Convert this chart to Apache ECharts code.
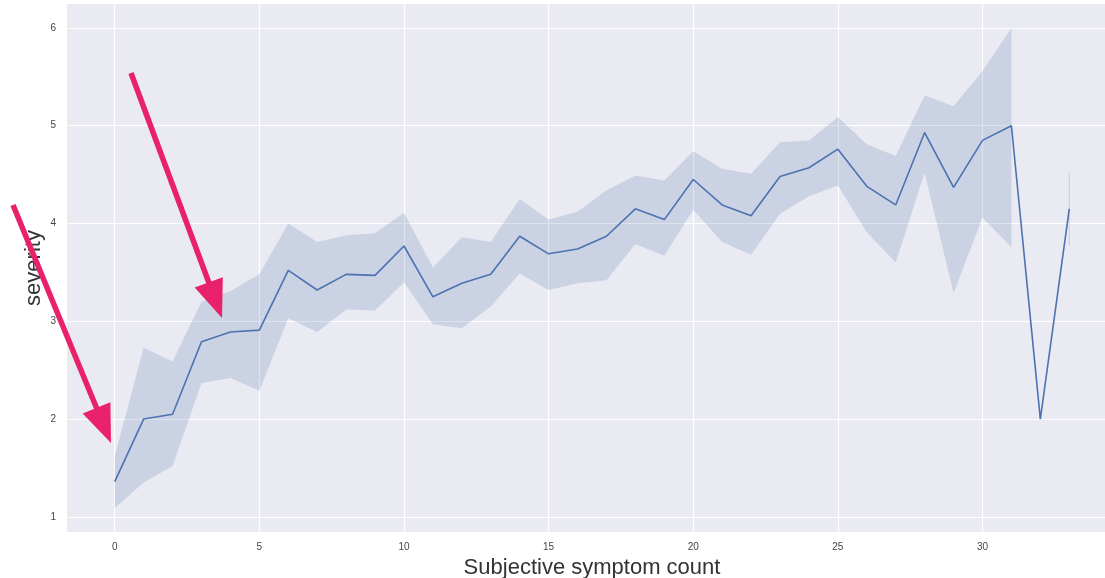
<!DOCTYPE html>
<html>
<head>
<meta charset="utf-8">
<title>Severity by subjective symptom count</title>
<script src="https://cdn.jsdelivr.net/npm/echarts@6/dist/echarts.min.js"></script>
<style>
  html, body { margin: 0; padding: 0; background: #ffffff; }
  #chart { width: 1105px; height: 578px; }
</style>
</head>
<body>
<div id="chart"></div>
<script>
// Number of subjective symptoms reported
const symptomCounts = [0, 1, 2, 3, 4, 5, 6, 7, 8, 9, 10, 11, 12, 13, 14, 15, 16,
  17, 18, 19, 20, 21, 22, 23, 24, 25, 26, 27, 28, 29, 30, 31, 32, 33];

// Mean severity per symptom count
const severityMean = [1.36, 2.00, 2.05, 2.79, 2.89, 2.91, 3.52, 3.32, 3.48, 3.47,
  3.77, 3.25, 3.39, 3.48, 3.87, 3.69, 3.74, 3.87, 4.15, 4.04, 4.45, 4.19, 4.08,
  4.48, 4.57, 4.76, 4.38, 4.19, 4.93, 4.37, 4.85, 5.00, 2.00, 4.15];

// 95% confidence interval bounds (null where a single observation gives none)
const ciLower = [1.09, 1.35, 1.52, 2.37, 2.42, 2.29, 3.03, 2.89, 3.12, 3.11,
  3.40, 2.97, 2.93, 3.15, 3.49, 3.32, 3.39, 3.42, 3.79, 3.67, 4.14, 3.81, 3.68,
  4.10, 4.28, 4.39, 3.91, 3.60, 4.52, 3.29, 4.06, 3.76, null, 3.77];
const ciUpper = [1.62, 2.73, 2.59, 3.20, 3.31, 3.48, 4.00, 3.81, 3.88, 3.90,
  4.11, 3.55, 3.86, 3.81, 4.25, 4.04, 4.12, 4.34, 4.49, 4.44, 4.74, 4.56, 4.51,
  4.83, 4.85, 5.09, 4.81, 4.69, 5.31, 5.20, 5.56, 6.00, null, 4.52];

// Tick labels
const xTicks = [0, 5, 10, 15, 20, 25, 30, 35];
const yTicks = [1, 2, 3, 4, 5, 6];

// Callout arrows (tail -> tip, in pixels)
const calloutArrows = [
  { from: [13, 205], to: [111, 443] },
  { from: [131, 73], to: [222, 318] }
];

const LINE_BLUE = '#4C72B0';
const BAND_FILL = 'rgba(76, 114, 176, 0.2)';
const ARROW_PINK = '#E8216A';
const FONT = '"Liberation Sans", Arial, Helvetica, sans-serif';

function arrowGraphics(a) {
  const [x1, y1] = a.from;
  const [x2, y2] = a.to;
  const len = Math.hypot(x2 - x1, y2 - y1);
  const ux = (x2 - x1) / len, uy = (y2 - y1) / len;
  const px = uy, py = -ux;
  const headLen = 38, headHalf = 15;
  const bx = x2 - ux * headLen, by = y2 - uy * headLen;
  return [
    {
      type: 'line',
      shape: { x1: x1, y1: y1, x2: bx + ux * 2, y2: by + uy * 2 },
      style: { stroke: ARROW_PINK, lineWidth: 5.5, lineCap: 'butt' },
      z: 100
    },
    {
      type: 'polygon',
      shape: { points: [[x2, y2], [bx + px * headHalf, by + py * headHalf], [bx - px * headHalf, by - py * headHalf]] },
      style: { fill: ARROW_PINK },
      z: 100
    }
  ];
}

// Confidence band: one polygon per run of consecutive intervals,
// a thin vertical stroke where only one interval stands alone.
function renderBand(params, api) {
  if (params.dataIndex !== 0) return null;
  const children = [];
  let run = [];
  const flush = () => {
    if (run.length > 1) {
      const top = run.map(i => api.coord([symptomCounts[i], ciUpper[i]]));
      const bottom = run.slice().reverse().map(i => api.coord([symptomCounts[i], ciLower[i]]));
      children.push({
        type: 'polygon',
        shape: { points: top.concat(bottom) },
        style: { fill: BAND_FILL, stroke: null }
      });
    } else if (run.length === 1) {
      const i = run[0];
      const p1 = api.coord([symptomCounts[i], ciUpper[i]]);
      const p2 = api.coord([symptomCounts[i], ciLower[i]]);
      children.push({
        type: 'line',
        shape: { x1: p1[0], y1: p1[1], x2: p2[0], y2: p2[1] },
        style: { stroke: BAND_FILL, lineWidth: 1.2 }
      });
    }
    run = [];
  };
  for (let i = 0; i < symptomCounts.length; i++) {
    if (ciLower[i] == null || ciUpper[i] == null) flush();
    else run.push(i);
  }
  flush();
  return { type: 'group', children: children };
}

const chart = echarts.init(document.getElementById('chart'), null, { renderer: 'canvas' });

chart.setOption({
  animation: false,
  backgroundColor: '#ffffff',
  grid: {
    left: 67,
    top: 4,
    width: 1050,
    height: 528,
    containLabel: false,
    outerBoundsMode: 'none',
    show: true,
    backgroundColor: '#EAEAF2',
    borderWidth: 0
  },
  xAxis: {
    type: 'value',
    min: -1.65,
    max: 34.65,
    name: 'Subjective symptom count',
    nameLocation: 'middle',
    nameGap: 21,
    nameTextStyle: { fontFamily: FONT, fontSize: 22, color: '#333333' },
    axisLine: { show: false },
    axisTick: { show: false, customValues: xTicks },
    axisLabel: {
      customValues: xTicks,
      margin: 10,
      fontFamily: FONT,
      fontSize: 10,
      color: '#444444'
    },
    splitLine: { show: true, lineStyle: { color: '#ffffff', width: 1.2 } }
  },
  yAxis: {
    type: 'value',
    min: 0.845,
    max: 6.245,
    name: 'severity',
    nameLocation: 'middle',
    nameGap: 22,
    nameMoveOverlap: false,
    nameTextStyle: { fontFamily: FONT, fontSize: 22, color: '#333333' },
    axisLine: { show: false },
    axisTick: { show: false, customValues: yTicks },
    axisLabel: {
      customValues: yTicks,
      margin: 11,
      fontFamily: FONT,
      fontSize: 10,
      color: '#444444'
    },
    splitLine: { show: true, lineStyle: { color: '#ffffff', width: 1.2 } }
  },
  series: [
    {
      name: 'CI',
      type: 'custom',
      renderItem: renderBand,
      data: symptomCounts.map((x, i) => [x, ciLower[i], ciUpper[i]]),
      encode: { x: 0, y: [1, 2] },
      silent: true,
      z: 2
    },
    {
      name: 'severity',
      type: 'line',
      data: symptomCounts.map((x, i) => [x, severityMean[i]]),
      showSymbol: false,
      lineStyle: { color: LINE_BLUE, width: 1.6 },
      itemStyle: { color: LINE_BLUE },
      z: 3
    }
  ],
  graphic: calloutArrows.flatMap(arrowGraphics)
});
</script>
</body>
</html>
